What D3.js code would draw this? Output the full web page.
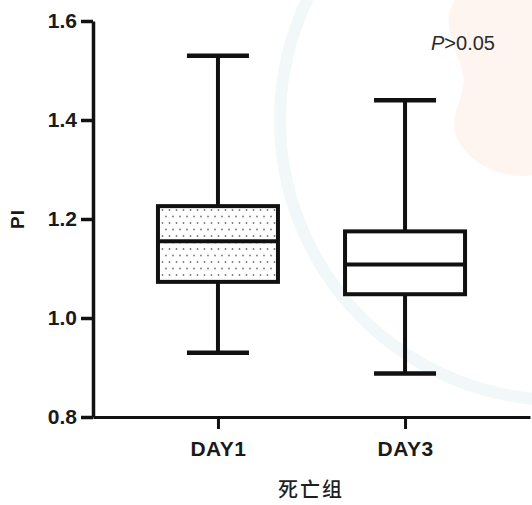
<!DOCTYPE html>
<html>
<head>
<meta charset="utf-8">
<script src="https://cdn.jsdelivr.net/npm/d3@7"></script>
<style>
  html, body { margin: 0; padding: 0; background: #fff; }
  svg { display: block; }
</style>
</head>
<body>
<div id="chart"></div>
<script>
// ---- data ----
const categories   = ["DAY1", "DAY3"];
const whiskerLow   = [0.930, 0.888];
const q1           = [1.073, 1.048];
const median       = [1.155, 1.108];
const q3           = [1.226, 1.175];
const whiskerHigh  = [1.530, 1.440];
const filled       = [true, false];
const yTicks       = [0.8, 1.0, 1.2, 1.4, 1.6];
const yLabel       = "PI";
const xLabel       = "死亡组";
const pNote        = ">0.05";

const W = 532, H = 505;
const svg = d3.select("#chart").append("svg").attr("width", W).attr("height", H);

// faint background watermark tints
const bg = svg.append("g");
bg.append("path")
  .attr("d", "M455,0 L532,0 L532,175 C505,180 470,165 458,140 C445,115 470,95 462,70 C455,45 440,20 455,0 Z")
  .attr("fill", "#fef5f1");
bg.append("circle").attr("cx", 560).attr("cy", 120).attr("r", 280)
  .attr("fill", "none").attr("stroke", "#f2f8f9").attr("stroke-width", 12);

const defs = svg.append("defs");
const pat = defs.append("pattern").attr("id", "dots").attr("patternUnits", "userSpaceOnUse")
  .attr("width", 7).attr("height", 13);
pat.append("rect").attr("width", 7).attr("height", 13).attr("fill", "#fff");
pat.append("circle").attr("cx", 1.5).attr("cy", 2).attr("r", 0.9).attr("fill", "#777");
pat.append("circle").attr("cx", 5).attr("cy", 8.5).attr("r", 0.9).attr("fill", "#777");

const y = d3.scaleLinear().domain([0.8, 1.6]).range([417, 21]);
const x = d3.scalePoint().domain(categories).range([93, 530]).padding(0.668);

const boxW = 120, capW = 62;
const ink = "#111";
const sans = "'Liberation Sans', Arial, sans-serif";

// y axis
const yAxis = svg.append("g").attr("transform", "translate(93,0)")
  .call(d3.axisLeft(y).tickValues(yTicks).tickFormat(d3.format(".1f")).tickSize(12).tickSizeOuter(0).tickPadding(4));
yAxis.select(".domain").attr("stroke", ink).attr("stroke-width", 3.5);
yAxis.selectAll(".tick line").attr("stroke", ink).attr("stroke-width", 3.5);
yAxis.selectAll(".tick text").attr("fill", "#1a1a1a")
  .style("font-family", sans).style("font-weight", "bold").style("font-size", "21px");

// x axis
const xAxis = svg.append("g").attr("transform", "translate(0,417)")
  .call(d3.axisBottom(x).tickSize(12).tickSizeOuter(0).tickPadding(12));
xAxis.select(".domain").attr("stroke", ink).attr("stroke-width", 3);
xAxis.selectAll(".tick line").attr("stroke", ink).attr("stroke-width", 3);
xAxis.selectAll(".tick text").attr("fill", "#1a1a1a")
  .style("font-family", sans).style("font-weight", "bold").style("font-size", "21px")
  .style("letter-spacing", "0.5px");

// boxes
const data = categories.map((c, i) => ({
  c, lo: whiskerLow[i], q1: q1[i], med: median[i], q3: q3[i], hi: whiskerHigh[i], filled: filled[i]
}));
const g = svg.append("g");
const b = g.selectAll("g.box").data(data).join("g").attr("class", "box");
// whiskers
b.append("line").attr("x1", d => x(d.c)).attr("x2", d => x(d.c))
  .attr("y1", d => y(d.hi)).attr("y2", d => y(d.q3)).attr("stroke", ink).attr("stroke-width", 4);
b.append("line").attr("x1", d => x(d.c)).attr("x2", d => x(d.c))
  .attr("y1", d => y(d.q1)).attr("y2", d => y(d.lo)).attr("stroke", ink).attr("stroke-width", 4);
b.append("line").attr("x1", d => x(d.c) - capW / 2).attr("x2", d => x(d.c) + capW / 2)
  .attr("y1", d => y(d.hi)).attr("y2", d => y(d.hi)).attr("stroke", ink).attr("stroke-width", 4.5);
b.append("line").attr("x1", d => x(d.c) - capW / 2).attr("x2", d => x(d.c) + capW / 2)
  .attr("y1", d => y(d.lo)).attr("y2", d => y(d.lo)).attr("stroke", ink).attr("stroke-width", 4.5);
// box
b.append("rect").attr("x", d => x(d.c) - boxW / 2).attr("width", boxW)
  .attr("y", d => y(d.q3)).attr("height", d => y(d.q1) - y(d.q3))
  .attr("fill", d => d.filled ? "url(#dots)" : "#fff")
  .attr("stroke", ink).attr("stroke-width", 4);
// median
b.append("line").attr("x1", d => x(d.c) - boxW / 2).attr("x2", d => x(d.c) + boxW / 2)
  .attr("y1", d => y(d.med)).attr("y2", d => y(d.med)).attr("stroke", ink).attr("stroke-width", 4);

// y label
svg.append("text").attr("transform", "translate(24,219) rotate(-90)")
  .attr("text-anchor", "middle").attr("fill", "#1a1a1a")
  .style("font-family", sans).style("font-weight", "bold").style("font-size", "19px")
  .style("letter-spacing", "1px")
  .text(yLabel);

// x label
svg.append("text").attr("x", 311).attr("y", 497).attr("text-anchor", "middle").attr("fill", "#1e1e1e")
  .style("font-family", "'Noto Sans CJK SC', sans-serif").style("font-size", "20px").style("font-weight", "500")
  .style("letter-spacing", "2px")
  .text(xLabel);

// p value note
const pt = svg.append("text").attr("x", 431).attr("y", 50).attr("fill", "#2a2a2a")
  .style("font-family", sans).style("font-size", "20px");
pt.append("tspan").style("font-style", "italic").text("P");
pt.append("tspan").text(pNote);
</script>
</body>
</html>
